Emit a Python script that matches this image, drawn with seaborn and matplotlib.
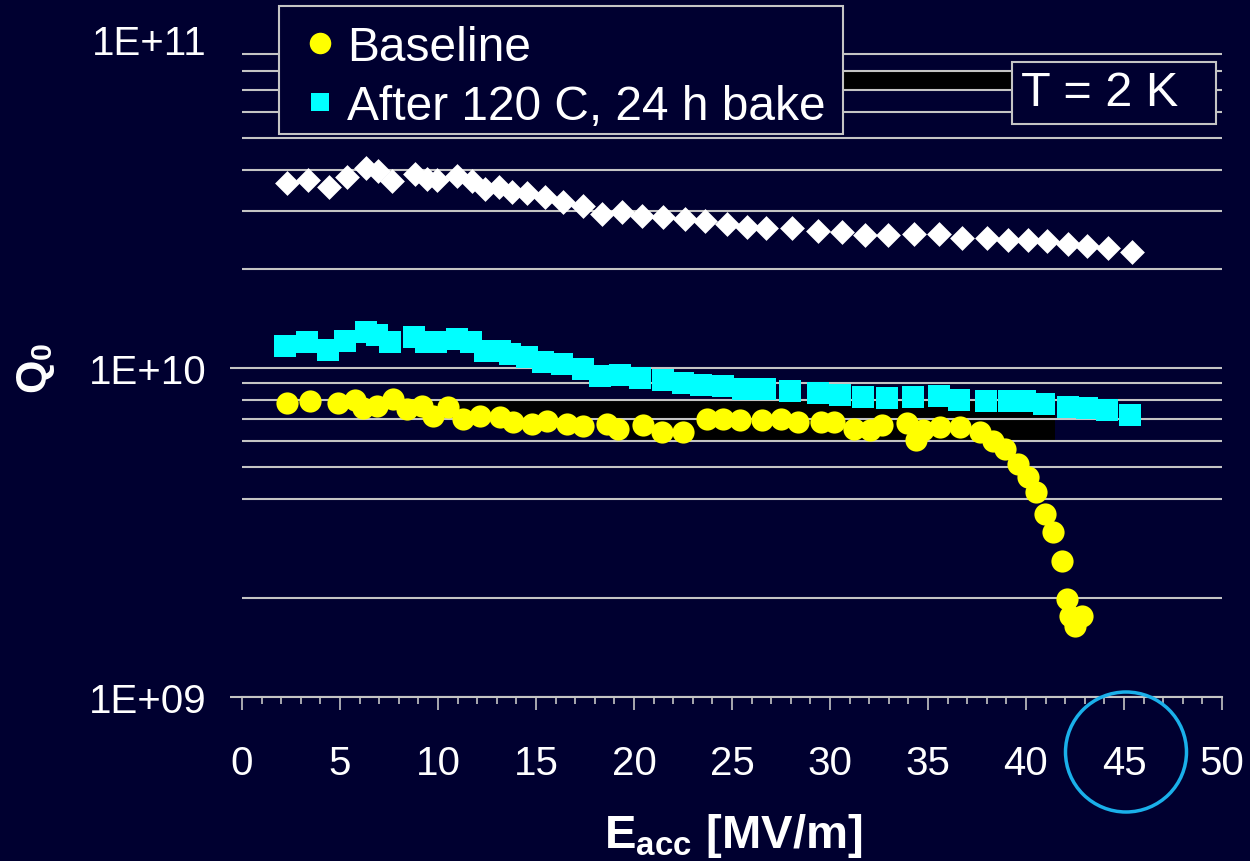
import numpy as np
import pandas as pd
import matplotlib
matplotlib.use("Agg")
import matplotlib.pyplot as plt
import seaborn as sns
from matplotlib.lines import Line2D
from matplotlib.patches import Rectangle, Ellipse
from matplotlib.ticker import FixedLocator, NullFormatter, MultipleLocator

# ---------------- data ----------------
# white diamonds (unlabelled reference curve)
ref_e = [2.30, 3.37, 4.44, 5.36, 6.33, 6.94, 7.65, 8.83, 9.44, 9.95, 10.97, 11.73,
         12.40, 13.11, 13.78, 14.54, 15.46, 16.38, 17.40, 18.37, 19.39, 20.41, 21.48,
         22.60, 23.62, 24.74, 25.77, 26.73, 28.06, 29.39, 30.61, 31.79, 32.96, 34.29,
         35.56, 36.73, 38.01, 39.08, 40.10, 41.07, 42.14, 43.11, 44.18, 45.41]
ref_q = [3.65e10, 3.73e10, 3.55e10, 3.81e10, 4.05e10, 3.97e10, 3.70e10, 3.89e10,
         3.75e10, 3.73e10, 3.83e10, 3.70e10, 3.50e10, 3.55e10, 3.43e10, 3.40e10,
         3.31e10, 3.20e10, 3.11e10, 2.94e10, 2.98e10, 2.90e10, 2.88e10, 2.84e10,
         2.80e10, 2.74e10, 2.68e10, 2.66e10, 2.66e10, 2.61e10, 2.59e10, 2.54e10,
         2.54e10, 2.55e10, 2.55e10, 2.48e10, 2.48e10, 2.45e10, 2.45e10, 2.43e10,
         2.38e10, 2.35e10, 2.32e10, 2.25e10]

# cyan squares: after 120 C, 24 h bake
bake_e = [2.19, 3.32, 4.39, 5.26, 6.33, 6.89, 7.55, 8.78, 9.39, 9.90, 10.97, 11.68,
          12.40, 13.16, 13.67, 14.54, 15.36, 16.33, 17.40, 18.27, 19.29, 20.31, 21.48,
          22.50, 23.42, 24.54, 25.56, 26.68, 27.96, 29.39, 30.51, 31.68, 32.91, 34.23,
          35.56, 36.58, 37.96, 39.13, 39.95, 40.92, 42.14, 43.11, 44.13, 45.31]
bake_q = [1.167e10, 1.20e10, 1.135e10, 1.21e10, 1.286e10, 1.26e10, 1.20e10, 1.242e10,
          1.20e10, 1.20e10, 1.225e10, 1.20e10, 1.127e10, 1.127e10, 1.103e10, 1.08e10,
          1.043e10, 1.028e10, 9.93e9, 9.46e9, 9.52e9, 9.33e9, 9.19e9, 9.00e9, 8.88e9,
          8.82e9, 8.63e9, 8.63e9, 8.51e9, 8.40e9, 8.28e9, 8.17e9, 8.11e9, 8.17e9,
          8.22e9, 8.00e9, 7.94e9, 7.94e9, 7.94e9, 7.77e9, 7.61e9, 7.56e9, 7.45e9, 7.20e9]

# yellow circles: baseline
base_e = [2.30, 3.47, 4.90, 5.77, 6.17, 6.89, 7.70, 8.42, 9.18, 9.74, 10.51, 11.28,
          12.14, 13.16, 13.83, 14.80, 15.56, 16.58, 17.40, 18.62, 19.18, 20.46, 21.43,
          22.50, 23.72, 24.54, 25.41, 26.53, 27.50, 28.37, 29.54, 30.20, 31.22, 32.04,
          32.65, 33.93, 34.39, 34.74, 35.61, 36.63, 37.65, 38.32, 38.93, 39.59, 40.10,
          40.51, 40.97, 41.38, 41.84, 42.09, 42.24, 42.86, 42.50]
base_q = [7.83e9, 7.94e9, 7.83e9, 8.00e9, 7.56e9, 7.66e9, 8.05e9, 7.50e9, 7.66e9,
          7.15e9, 7.61e9, 7.00e9, 7.15e9, 7.10e9, 6.85e9, 6.76e9, 6.90e9, 6.76e9,
          6.66e9, 6.76e9, 6.53e9, 6.71e9, 6.39e9, 6.39e9, 7.00e9, 7.00e9, 6.95e9,
          6.95e9, 7.00e9, 6.85e9, 6.85e9, 6.85e9, 6.53e9, 6.48e9, 6.71e9, 6.80e9,
          6.04e9, 6.48e9, 6.62e9, 6.62e9, 6.39e9, 6.00e9, 5.67e9, 5.11e9, 4.67e9,
          4.20e9, 3.60e9, 3.17e9, 2.59e9, 1.99e9, 1.76e9, 1.76e9, 1.64e9]

legend_labels = ["Baseline", "After 120 C, 24 h bake"]
y_major = [1e9, 1e10, 1e11]
y_major_labels = ["1E+09", "1E+10", "1E+11"]
y_minor_grid = [2e9, 4e9, 5e9, 6e9, 7e9, 8e9, 9e9,
                2e10, 3e10, 4e10, 5e10, 6e10, 7e10, 8e10, 9e10]
x_label = r"$\mathbf{E}_{\mathbf{acc}}$ [MV/m]"
y_label = r"$\mathbf{Q}_{\mathbf{0}}$"
note = "T = 2 K"

# ---------------- style ----------------
BG = "#000030"
GRID = "#c4c4c4"
YEL = "#ffff00"
CYA = "#00ffff"

sns.set_theme(style="dark")
plt.rcParams["font.family"] = ["Liberation Sans", "DejaVu Sans"]
plt.rcParams["mathtext.fontset"] = "custom"
plt.rcParams["mathtext.rm"] = "Liberation Sans"
plt.rcParams["mathtext.bf"] = "Liberation Sans:bold"
plt.rcParams["mathtext.it"] = "Liberation Sans:italic"

W, H = 1250, 862
fig = plt.figure(figsize=(W / 100, H / 100), dpi=100, facecolor=BG)
ax = fig.add_axes([242 / W, 1 - 698 / H, 980 / W, 658 / H])
ax.set_facecolor(BG)
ax.set_axisbelow(True)

df_ref = pd.DataFrame({"E": ref_e, "Q": ref_q})
df_bake = pd.DataFrame({"E": bake_e, "Q": bake_q})
df_base = pd.DataFrame({"E": base_e, "Q": base_q})

sns.scatterplot(data=df_ref, x="E", y="Q", marker="D", s=160, color="white",
                linewidth=0, ax=ax, legend=False, zorder=3)
sns.scatterplot(data=df_bake, x="E", y="Q", marker="s", s=235, color=CYA,
                linewidth=0, ax=ax, legend=False, zorder=3)
sns.scatterplot(data=df_base, x="E", y="Q", marker="o", s=255, color=YEL,
                linewidth=0, ax=ax, legend=False, zorder=4)

ax.set_yscale("log")
ax.set_xlim(0, 50)
ax.set_ylim(1e9, 1e11)
ax.set_xlabel("")
ax.set_ylabel("")

# black artefact bands present in the original picture
ax.axhspan(7e10, 8e10, xmin=0.613, xmax=0.786, color="black", lw=0, zorder=0.3)
ax.axhspan(7e9, 8e9, xmin=0.164, xmax=0.830, color="black", lw=0, zorder=0.3)
ax.axhspan(6e9, 7e9, xmin=0.393, xmax=0.830, color="black", lw=0, zorder=0.3)

# y axis ticks / grid
ax.yaxis.set_major_locator(FixedLocator(y_major))
ax.set_yticklabels(y_major_labels)
ax.yaxis.set_minor_locator(FixedLocator(y_minor_grid))
ax.yaxis.set_minor_formatter(NullFormatter())
ax.tick_params(axis="y", which="major", direction="out", length=8.6, width=1.5,
               color=GRID, pad=17, labelsize=29, labelcolor="white", left=True)
ax.tick_params(axis="y", which="minor", length=0, left=False)
ax.grid(True, axis="y", which="both", color=GRID, lw=1.5)
ax.grid(False, axis="x", which="both")

# x axis ticks
ax.xaxis.set_major_locator(MultipleLocator(5))
ax.xaxis.set_minor_locator(MultipleLocator(1))
ax.tick_params(axis="x", which="major", direction="out", length=9.5, width=1.2,
               color=GRID, pad=24, labelsize=29, labelcolor="white", bottom=True)
ax.tick_params(axis="x", which="minor", direction="out", length=5, width=1.2,
               color=GRID, bottom=True)

for s in ["left", "right", "top"]:
    ax.spines[s].set_visible(False)
ax.spines["bottom"].set_color(GRID)
ax.spines["bottom"].set_linewidth(1.5)

fig.canvas.draw()
yt = ax.yaxis.get_major_ticks()
yt[-1].gridline.set_visible(False)
yt[-1].tick1line.set_visible(False)

# legend (frame drawn separately for exact placement)
ax.add_patch(Rectangle((279 / W, 1 - 135 / H), 564 / W, 128 / H,
                       transform=fig.transFigure, facecolor=BG, edgecolor=GRID,
                       lw=1.5, zorder=4.9, clip_on=False))
handles = [Line2D([], [], ls="", marker="o", ms=15.5, mew=0, color=YEL),
           Line2D([], [], ls="", marker="s", ms=13.5, mew=0, color=CYA)]
leg = ax.legend(handles, legend_labels, loc="upper left",
                bbox_to_anchor=(296 / W, 1 - 26 / H), bbox_transform=fig.transFigure,
                fontsize=34.5, frameon=False, borderpad=0, labelspacing=0.29,
                handlelength=1.0, handletextpad=0.07, borderaxespad=0)
leg.set_zorder(5)
for t in leg.get_texts():
    t.set_color("white")

# T = 2 K box
fig.add_artist(Rectangle((1012 / W, 1 - 125 / H), 204 / W, 62 / H,
                         transform=fig.transFigure, facecolor=BG, edgecolor=GRID,
                         lw=1.5, zorder=5))
fig.text(1021 / W, 1 - 94 / H, note, ha="left", va="center", fontsize=35,
         color="white", zorder=6)

# axis titles
fig.text(733 / W, 1 - 836 / H, x_label, ha="center", va="center", fontsize=34,
         fontweight="bold", color="white")
fig.text(36 / W, 1 - 368 / H, y_label, ha="center", va="center", fontsize=31,
         fontweight="bold", color="white", rotation=90)

# highlight circle around 45
fig.add_artist(Ellipse((1126 / W, 1 - 753 / H), 121 / W, 120 / H,
                       transform=fig.transFigure, fill=False, edgecolor="#1ab0ea",
                       lw=2.5, zorder=6))

fig.savefig("out.png", dpi=100, facecolor=BG)
